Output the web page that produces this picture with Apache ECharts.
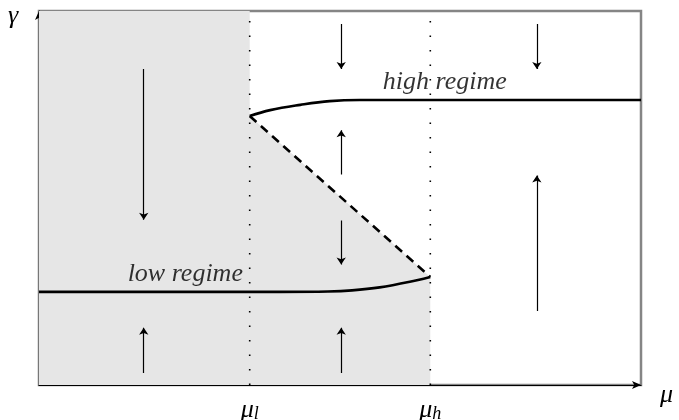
<!DOCTYPE html>
<html>
<head>
<meta charset="utf-8">
<script src="https://cdn.jsdelivr.net/npm/echarts@6/dist/echarts.min.js"></script>
<style>html,body{margin:0;padding:0;background:#fff}#c{width:679px;height:420px}</style>
</head>
<body>
<div id="c"></div>
<script>
// ---- data (axis units 0..100) ----
var muTicks = [35, 65];
var muTickNames = ['l', 'h'];
var shadeRegion = [[0, 100], [35, 100], [35, 71.9], [65, 28.9], [65, 0]];
var highRegime = [[35, 71.9], [38.4, 73.5], [43.4, 74.9], [48.3, 75.9], [53.3, 76.2], [60, 76.2], [100, 76.2]];
var lowRegime = [[0, 24.9], [40, 24.9], [48, 25.0], [52, 25.3], [56.6, 26.1], [61.6, 27.6], [65, 28.9]];
var unstable = [[35, 71.9], [65, 28.9]];
var arrowX = [17.4, 17.4, 50.2, 50.2, 50.2, 50.2, 82.7, 82.7];
var arrowFrom = [84.5, 3.2, 96.5, 56.3, 44.0, 3.2, 96.5, 19.8];
var arrowTo = [44.2, 15.3, 84.5, 68.1, 32.2, 15.3, 84.5, 56.0];
var labelHigh = [67.4, 81.0, 'high regime'];
var labelLow = [24.3, 29.7, 'low regime'];
var axisNames = ['μ', 'γ'];

var FONT = 'Liberation Serif, Times New Roman, serif';
var arrows = arrowX.map(function (x, i) {
  return { coords: [[x, arrowFrom[i]], [x, arrowTo[i]]] };
});

var chart = echarts.init(document.getElementById('c'), null, { renderer: 'canvas' });
chart.setOption({
  animation: false,
  grid: { left: 39, right: 38, top: 11, bottom: 35, containLabel: false, outerBoundsMode: 'none', show: true, borderColor: '#858585', borderWidth: 2.5, backgroundColor: 'transparent' },
  xAxis: {
    type: 'value', min: 0, max: 100,
    splitLine: { show: false },
    axisTick: { show: false },
    axisLine: { show: true, onZero: false, symbol: ['none', 'arrow'], symbolSize: [6, 9], lineStyle: { color: '#000', width: 1.2 } },
    axisLabel: {
      show: true,
      customValues: muTicks,
      margin: 12,
      formatter: function (v) {
        var i = muTicks.indexOf(v);
        return '{m|μ}{s|' + muTickNames[i] + '}';
      },
      rich: {
        m: { fontFamily: FONT, fontStyle: 'italic', fontSize: 26, color: '#000' },
        s: { fontFamily: FONT, fontStyle: 'italic', fontSize: 18, color: '#000', verticalAlign: 'bottom', padding: [7, 0, 0, 0] }
      }
    }
  },
  yAxis: {
    type: 'value', min: 0, max: 100,
    splitLine: { show: false },
    axisTick: { show: false },
    axisLabel: { show: false },
    axisLine: { show: true, onZero: false, symbol: ['none', 'arrow'], symbolSize: [6, 9], lineStyle: { color: '#000', width: 1.2 } }
  },
  graphic: [
    { type: 'text', left: 8, top: 3, style: { text: axisNames[1], font: 'italic 26px ' + FONT, fill: '#000' } },
    { type: 'text', left: 660, top: 382, style: { text: axisNames[0], font: 'italic 26px ' + FONT, fill: '#000' } }
  ],
  series: [
    {
      type: 'line', data: shadeRegion, symbol: 'none', silent: true,
      lineStyle: { width: 0 }, areaStyle: { color: '#e6e6e6', opacity: 1 }, z: 1
    },
    {
      type: 'line', data: [[muTicks[0], 0], [muTicks[0], 101.5]], symbol: 'none', silent: true,
      lineStyle: { color: '#000', width: 1.6, type: [1.5, 13], cap: 'butt' }, z: 3
    },
    {
      type: 'line', data: [[muTicks[1], 0], [muTicks[1], 101.5]], symbol: 'none', silent: true,
      lineStyle: { color: '#000', width: 1.6, type: [1.5, 13], cap: 'butt' }, z: 3
    },
    {
      type: 'line', data: highRegime, symbol: 'none', smooth: 0.4,
      lineStyle: { color: '#000', width: 2.6 }, z: 5
    },
    {
      type: 'line', data: lowRegime, symbol: 'none', smooth: 0.3,
      lineStyle: { color: '#000', width: 2.6 }, z: 5
    },
    {
      type: 'line', data: unstable, symbol: 'none',
      lineStyle: { color: '#000', width: 2.6, type: [9, 6] }, z: 5
    },
    {
      type: 'lines', coordinateSystem: 'cartesian2d', data: arrows,
      symbol: ['none', 'arrow'], symbolSize: 7,
      lineStyle: { color: '#000', width: 1.2, opacity: 1 }, z: 6
    },
    {
      type: 'scatter', symbolSize: 0, silent: true, z: 7,
      data: [labelHigh, labelLow],
      label: {
        show: true, position: 'inside',
        formatter: function (p) { return p.data[2]; },
        fontFamily: FONT, fontStyle: 'italic', fontSize: 26, color: '#000'
      }
    }
  ]
});
</script>
</body>
</html>
